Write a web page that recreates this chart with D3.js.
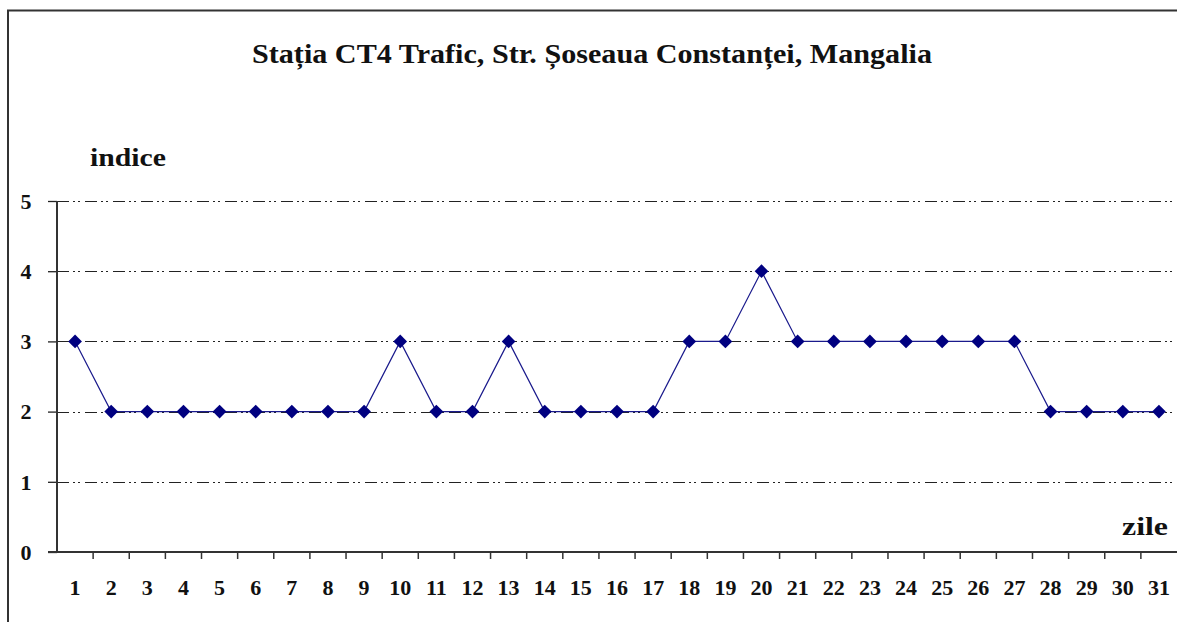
<!DOCTYPE html>
<html>
<head>
<meta charset="utf-8">
<script src="https://cdn.jsdelivr.net/npm/d3@7"></script>
<style>
  html, body { margin: 0; padding: 0; background: #fff; overflow: hidden; }
  text { font-family: "Liberation Serif", Tinos, "Times New Roman", serif; font-weight: bold; fill: #111; }
</style>
</head>
<body>
<div id="wrapper"></div>
<script>
// data
const days = d3.range(1, 32)
const indexValues = [3, 2, 2, 2, 2, 2, 2, 2, 2, 3, 2, 2, 3, 2, 2, 2, 2, 3, 3, 4, 3, 3, 3, 3, 3, 3, 3, 2, 2, 2, 2]
const yTicks = [0, 1, 2, 3, 4, 5]
const titleText = "Stația CT4 Trafic, Str. Șoseaua Constanței, Mangalia"
const yLabel = "indice"
const xLabel = "zile"

// 1. dimensions
const dimensions = {
  width: 1177,
  height: 622,
  margin: { top: 201, right: 0, bottom: 70, left: 57 },
}
dimensions.boundedWidth = dimensions.width - dimensions.margin.left - dimensions.margin.right
dimensions.boundedHeight = dimensions.height - dimensions.margin.top - dimensions.margin.bottom

// 2. canvas
const wrapper = d3.select("#wrapper").append("svg")
    .attr("width", dimensions.width)
    .attr("height", dimensions.height)

// chart frame (right and bottom edges fall outside the picture)
wrapper.append("rect")
    .attr("x", 8).attr("y", 10.5)
    .attr("width", 1200).attr("height", 700)
    .attr("fill", "none")
    .attr("stroke", "#333")
    .attr("stroke-width", 2)

const bounds = wrapper.append("g")
    .attr("transform", `translate(${dimensions.margin.left},${dimensions.margin.top})`)

// 3. scales
const xScale = d3.scaleBand()
    .domain(days)
    .range([0, dimensions.boundedWidth])

const yScale = d3.scaleLinear()
    .domain([0, 5])
    .range([dimensions.boundedHeight, 0])

// 4. gridlines (dash-dot-dot)
bounds.append("g")
  .selectAll("line")
  .data(yTicks.filter(d => d > 0))
  .join("line")
    .attr("x1", 0)
    .attr("x2", dimensions.boundedWidth)
    .attr("y1", d => Math.round(yScale(d)) + 0.5)
    .attr("y2", d => Math.round(yScale(d)) + 0.5)
    .attr("stroke", "#222")
    .attr("stroke-width", 1.2)
    .attr("stroke-dasharray", "12,4,2,3,2,5")

// 5. axes
const yAxis = d3.axisLeft(yScale)
    .tickValues(yTicks)
    .tickSize(9)
    .tickFormat(d3.format("d"))

const yAxisGroup = bounds.append("g").call(yAxis)
yAxisGroup.select(".domain").remove()
yAxisGroup.selectAll(".tick line").attr("stroke", "#222").attr("stroke-width", 1.3)
yAxisGroup.selectAll(".tick text")
    .attr("x", -31)
    .attr("dy", "0.33em")
    .attr("text-anchor", "middle")
    .attr("font-family", null)
    .attr("font-size", null)
    .style("font-size", "22px")

bounds.append("line")
    .attr("x1", 0).attr("x2", 0)
    .attr("y1", 0).attr("y2", dimensions.boundedHeight)
    .attr("stroke", "#333")
    .attr("stroke-width", 2)

// x axis: ticks at band boundaries, labels at band centres
const xAxisGroup = bounds.append("g")
    .attr("transform", `translate(0,${dimensions.boundedHeight})`)

xAxisGroup.append("line")
    .attr("x1", -9).attr("x2", dimensions.boundedWidth)
    .attr("stroke", "#333")
    .attr("stroke-width", 2)

xAxisGroup.selectAll(".xtick")
  .data(days.slice(1))
  .join("line")
    .attr("class", "xtick")
    .attr("x1", d => xScale(d))
    .attr("x2", d => xScale(d))
    .attr("y1", 0).attr("y2", 7)
    .attr("stroke", "#333")
    .attr("stroke-width", 1.5)

xAxisGroup.selectAll(".xlabel")
  .data(days)
  .join("text")
    .attr("class", "xlabel")
    .attr("x", d => xScale(d) + xScale.bandwidth() / 2)
    .attr("y", 43)
    .attr("text-anchor", "middle")
    .style("font-size", "22px")
    .text(d => d)

// 6. line + markers
const lineGenerator = d3.line()
    .x((d, i) => xScale(days[i]) + xScale.bandwidth() / 2)
    .y(d => yScale(d))

bounds.append("path")
    .datum(indexValues)
    .attr("d", lineGenerator)
    .attr("fill", "none")
    .attr("stroke", "#1a1a8c")
    .attr("stroke-width", 1.2)

const diamond = d3.symbol().type(d3.symbolDiamond2).size(120)
bounds.selectAll(".marker")
  .data(indexValues)
  .join("path")
    .attr("class", "marker")
    .attr("d", diamond)
    .attr("transform", (d, i) => `translate(${xScale(days[i]) + xScale.bandwidth() / 2},${yScale(d)})`)
    .attr("fill", "#000080")

// 7. peripherals
wrapper.append("text")
    .attr("x", 592)
    .attr("y", 63)
    .attr("text-anchor", "middle")
    .attr("textLength", 680)
    .attr("lengthAdjust", "spacingAndGlyphs")
    .style("font-size", "27px")
    .text(titleText)

wrapper.append("text")
    .attr("x", 90)
    .attr("y", 166)
    .attr("textLength", 76)
    .attr("lengthAdjust", "spacingAndGlyphs")
    .style("font-size", "25px")
    .text(yLabel)

wrapper.append("text")
    .attr("x", 1122)
    .attr("y", 535)
    .attr("textLength", 46)
    .attr("lengthAdjust", "spacingAndGlyphs")
    .style("font-size", "25px")
    .text(xLabel)
</script>
</body>
</html>
